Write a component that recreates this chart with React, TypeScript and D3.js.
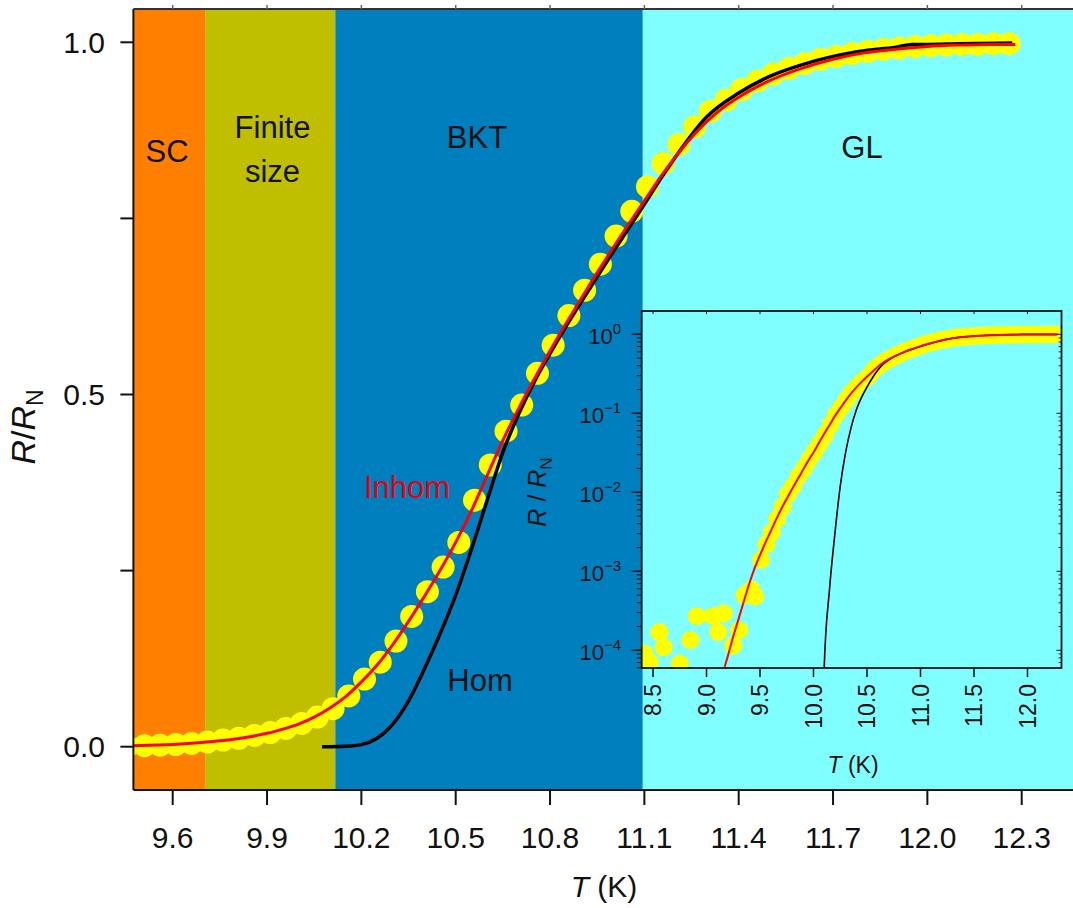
import React from 'react';
import * as d3 from 'd3';

const W = 1073;
const H = 908;
const FONT = "'Liberation Sans', Arial, Helvetica, sans-serif";

// Regions (temperature boundaries in K)
const regionNames = ['SC', 'Finite', 'BKT', 'GL'];
const regionStart = [9.3, 9.705, 10.117, 11.095];
const regionEnd = [9.705, 10.117, 11.095, 12.7];
const regionColors = ['#FF7F00', '#BFBF00', '#007FBF', '#7FFFFF'];

// Main axes ticks
const xTicks = [9.6, 9.9, 10.2, 10.5, 10.8, 11.1, 11.4, 11.7, 12.0, 12.3];
const xTickLabels = ['9.6', '9.9', '10.2', '10.5', '10.8', '11.1', '11.4', '11.7', '12.0', '12.3'];
const yTicks = [0, 0.25, 0.5, 0.75, 1.0];
const yTickLabels = ['0.0', '', '0.5', '', '1.0'];

// Inset axes ticks
const insetXTicks = [8.5, 9.0, 9.5, 10.0, 10.5, 11.0, 11.5, 12.0];
const insetXTickLabels = ['8.5', '9.0', '9.5', '10.0', '10.5', '11.0', '11.5', '12.0'];
const insetYDecades = [0, -1, -2, -3, -4];
const insetYSup = ['0', '\u22121', '\u22122', '\u22123', '\u22124'];

// Measured R/RN data (yellow circles)
const dataT = [8.42, 8.47, 8.56, 8.6, 8.75, 8.85, 8.91, 9.06, 9.11, 9.16,
  9.25, 9.305, 9.355, 9.42, 9.455,
  9.51, 9.56, 9.61, 9.66, 9.71, 9.76,
  9.81, 9.86, 9.91, 9.96, 10.01, 10.06, 10.11, 10.16, 10.21, 10.26,
  10.31, 10.36, 10.41, 10.46, 10.51, 10.56, 10.61, 10.66, 10.71, 10.76,
  10.81, 10.86, 10.91, 10.96, 11.01, 11.06, 11.11, 11.16, 11.21, 11.26,
  11.31, 11.36, 11.41, 11.46, 11.51, 11.56, 11.61, 11.66, 11.71, 11.76,
  11.81, 11.86, 11.91, 11.96, 12.01, 12.06, 12.11, 12.16, 12.21, 12.26];
const dataR = [9.1e-5, 7.1e-5, 1.7e-4, 1.1e-4, 6.8e-5, 1.35e-4, 2.7e-4, 2.7e-4, 1.7e-4, 2.95e-4,
  1.15e-4, 1.8e-4, 5.0e-4, 5.9e-4, 4.8e-4,
  1.4e-3, 2.2e-3, 3.1e-3, 4.6e-3, 6.5e-3, 0.0095,
  0.012, 0.016, 0.02, 0.026, 0.033, 0.042, 0.054, 0.072, 0.096, 0.12,
  0.15, 0.185, 0.22, 0.255, 0.29, 0.35, 0.4, 0.448, 0.485, 0.53,
  0.57, 0.612, 0.648, 0.685, 0.725, 0.76, 0.795, 0.828, 0.855, 0.88,
  0.902, 0.918, 0.933, 0.945, 0.955, 0.963, 0.97, 0.976, 0.98, 0.984,
  0.987, 0.99, 0.992, 0.994, 0.995, 0.996, 0.997, 0.997, 0.998, 0.998];

// Inhomogeneous fit (red)
const inhomT = [9.17, 9.2, 9.25, 9.3, 9.35, 9.4, 9.45, 9.5, 9.55, 9.6, 9.65, 9.7, 9.75,
  9.8, 9.85, 9.9, 9.95, 10.0, 10.05, 10.1, 10.15, 10.2, 10.25, 10.3, 10.35, 10.4, 10.45,
  10.5, 10.55, 10.6, 10.65, 10.7, 10.75, 10.8, 10.85, 10.9, 10.95, 11.0, 11.05, 11.1,
  11.15, 11.2, 11.25, 11.3, 11.35, 11.4, 11.45, 11.5, 11.6, 11.7, 11.8, 11.9, 12.0,
  12.1, 12.2, 12.28];
const inhomR = [6.2e-5, 8.5e-5, 1.5e-4, 2.5e-4, 4.2e-4, 7e-4, 1.1e-3, 1.6e-3, 2.3e-3, 3.2e-3, 4.5e-3, 6.2e-3, 8.3e-3,
  0.011, 0.0145, 0.019, 0.025, 0.032, 0.042, 0.055, 0.071, 0.092, 0.116, 0.145, 0.178, 0.213, 0.25,
  0.29, 0.335, 0.385, 0.435, 0.48, 0.522, 0.562, 0.6, 0.637, 0.673, 0.708, 0.742, 0.775,
  0.808, 0.838, 0.865, 0.888, 0.907, 0.922, 0.935, 0.946, 0.963, 0.976, 0.985, 0.99, 0.994,
  0.996, 0.997, 0.997];

// Homogeneous fit (black)
const homT = [10.075, 10.1, 10.15, 10.2, 10.25, 10.3, 10.35, 10.4, 10.45, 10.5, 10.55, 10.6,
  10.65, 10.7, 10.75, 10.8, 10.85, 10.9, 10.95, 11.0, 11.05, 11.1, 11.15, 11.2, 11.3, 11.4,
  11.5, 11.6, 11.7, 11.8, 11.9, 11.95, 12.0, 12.1, 12.27];
const homR = [1e-6, 6e-5, 6e-4, 3e-3, 0.012, 0.032, 0.065, 0.11, 0.16, 0.215, 0.28, 0.35,
  0.418, 0.472, 0.518, 0.558, 0.596, 0.632, 0.667, 0.702, 0.736, 0.77, 0.805, 0.838, 0.895, 0.928,
  0.952, 0.968, 0.98, 0.988, 0.993, 0.997, 0.997, 0.998, 0.999];

const points = dataT.map((t, i) => ({ t, r: dataR[i] }));
const inhom = inhomT.map((t, i) => ({ t, r: inhomR[i] }));
const hom = homT.map((t, i) => ({ t, r: homR[i] }));

export default function App() {
  // main scales
  const x = d3.scaleLinear().domain([9.6, 12.3]).range([172.7, 1021.7]);
  const y = d3.scaleLinear().domain([0, 1]).range([746.7, 42.3]);
  const left = x(9.475);
  const right = 1090;
  const top = 9;
  const bottom = 790;

  // inset scales
  const xi = d3.scaleLinear().domain([8.5, 12.0]).range([653, 1027.5]);
  const yi = d3.scaleLog().domain([1e-4, 1]).range([650.3, 334.3]);
  const iL = 641.7, iR = 1061.5, iT = 311, iB = 668;

  const lineMain = d3.line<{ t: number; r: number }>()
    .x(d => x(d.t)).y(d => y(d.r)).curve(d3.curveMonotoneX);
  const lineInset = d3.line<{ t: number; r: number }>()
    .x(d => xi(d.t)).y(d => yi(d.r)).curve(d3.curveMonotoneX);

  const minorTicks: number[] = [];
  for (let e = -5; e <= 0; e++) {
    for (let m = 2; m <= 9; m++) {
      const v = m * Math.pow(10, e);
      const py = yi(v);
      if (py <= iB && py >= iT) minorTicks.push(v);
    }
  }

  const regionLabelPos = [
    { x: 167, y: 162, lines: ['SC'] },
    { x: 272.5, y: 138, lines: ['Finite', 'size'] },
    { x: 477, y: 148, lines: ['BKT'] },
    { x: 862, y: 158, lines: ['GL'] },
  ];

  return (
    <svg width={W} height={H} style={{ position: 'absolute', left: 0, top: 0, background: '#fff' }}
      fontFamily={FONT}>
      <defs>
        <clipPath id="mainClip">
          <rect x={left} y={top} width={right - left} height={bottom - top} />
        </clipPath>
        <clipPath id="insetClip">
          <rect x={iL} y={iT} width={iR - iL} height={iB - iT} />
        </clipPath>
      </defs>

      {/* Regions */}
      <g clipPath="url(#mainClip)">
        {regionNames.map((n, i) => (
          <rect key={n} x={x(regionStart[i])} y={top}
            width={x(regionEnd[i]) - x(regionStart[i])} height={bottom - top}
            fill={regionColors[i]} />
        ))}
      </g>

      {/* Region labels */}
      {regionLabelPos.map((p, i) => (
        <text key={i} x={p.x} y={p.y} textAnchor="middle" fontSize={31} fill="#111">
          {p.lines.map((l, j) => (
            <tspan key={j} x={p.x} dy={j === 0 ? 0 : 44}>{l}</tspan>
          ))}
        </text>
      ))}

      {/* Main data */}
      <g clipPath="url(#mainClip)">
        {points.map((d, i) => (
          <circle key={i} cx={x(d.t)} cy={y(d.r)} r={11.5} fill="#FFFF00" />
        ))}
        <path d={lineMain(hom) || ''} fill="none" stroke="#000" strokeWidth={3.5} strokeLinejoin="round" />
        <path d={lineMain(inhom) || ''} fill="none" stroke="#FF0000" strokeWidth={3} strokeLinejoin="round" />
      </g>

      {/* Curve labels */}
      <text x={407} y={498} textAnchor="middle" fontSize={31} fill="#E8000B">Inhom</text>
      <text x={480} y={691} textAnchor="middle" fontSize={31} fill="#111">Hom</text>

      {/* Main frame */}
      <line x1={left} x2={left} y1={top} y2={bottom} stroke="#111" strokeWidth={2} />
      <line x1={left} x2={W} y1={bottom} y2={bottom} stroke="#111" strokeWidth={2} />
      <line x1={left} x2={W} y1={top} y2={top} stroke="#333" strokeWidth={2} />

      {/* Bottom axis */}
      {xTicks.map((t, i) => (
        <g key={t}>
          <line x1={x(t)} x2={x(t)} y1={bottom} y2={bottom + 15} stroke="#111" strokeWidth={2} />
          <line x1={x(t)} x2={x(t)} y1={top} y2={top - 4} stroke="#666" strokeWidth={1.5} />
          <text x={x(t)} y={848} textAnchor="middle" fontSize={30} fill="#111">{xTickLabels[i]}</text>
        </g>
      ))}
      <text x={604} y={897} textAnchor="middle" fontSize={30} fill="#111">
        <tspan fontStyle="italic">T</tspan> (K)
      </text>

      {/* Left axis */}
      {yTicks.map((v, i) => (
        <g key={v}>
          <line x1={left - 13} x2={left} y1={y(v)} y2={y(v)} stroke="#111" strokeWidth={2} />
          {yTickLabels[i] && (
            <text x={105} y={y(v) + 10.7} textAnchor="end" fontSize={30} fill="#111">{yTickLabels[i]}</text>
          )}
        </g>
      ))}
      <text transform="translate(35,427) rotate(-90)" textAnchor="middle" fontSize={34} fill="#111">
        <tspan fontStyle="italic">R</tspan>/<tspan fontStyle="italic">R</tspan>
        <tspan fontSize={23} dy={8}>N</tspan>
      </text>

      {/* Inset */}
      <rect x={iL} y={iT} width={iR - iL} height={iB - iT} fill="#7FFFFF" />
      <g clipPath="url(#insetClip)">
        {points.map((d, i) => (
          <circle key={i} cx={xi(d.t)} cy={yi(d.r)} r={9} fill="#FFFF00" />
        ))}
        <path d={lineInset(hom) || ''} fill="none" stroke="#000" strokeWidth={1.6} />
        <path d={lineInset(inhom) || ''} fill="none" stroke="#FF0000" strokeWidth={2} />
      </g>
      <rect x={iL} y={iT} width={iR - iL} height={iB - iT} fill="none" stroke="#111" strokeWidth={1.8} />

      {/* Inset x axis */}
      {insetXTicks.map((t, i) => (
        <g key={t}>
          <line x1={xi(t)} x2={xi(t)} y1={iB} y2={iB + 9} stroke="#111" strokeWidth={1.5} />
          <line x1={xi(t)} x2={xi(t)} y1={iT} y2={iT + 3} stroke="#111" strokeWidth={1} />
          <text transform={`translate(${xi(t) + 8},684) rotate(-90)`} textAnchor="end" fontSize={23} fill="#111">
            {insetXTickLabels[i]}
          </text>
        </g>
      ))}
      <text x={853} y={773} textAnchor="middle" fontSize={23} fill="#111">
        <tspan fontStyle="italic">T</tspan> (K)
      </text>

      {/* Inset y axis */}
      {insetYDecades.map((e, i) => {
        const v = Math.pow(10, e);
        return (
          <g key={e}>
            <line x1={iL - 10} x2={iL} y1={yi(v)} y2={yi(v)} stroke="#111" strokeWidth={1.5} />
            <line x1={iR} x2={iR - 5} y1={yi(v)} y2={yi(v)} stroke="#111" strokeWidth={1} />
            <text x={621} y={yi(v) + 10} textAnchor="end" fontSize={22} fill="#111">
              10<tspan fontSize={15} dy={-10}>{insetYSup[i]}</tspan>
            </text>
          </g>
        );
      })}
      {minorTicks.map((v, i) => (
        <g key={i}>
          <line x1={iL - 5} x2={iL} y1={yi(v)} y2={yi(v)} stroke="#111" strokeWidth={1} />
          <line x1={iR} x2={iR - 3} y1={yi(v)} y2={yi(v)} stroke="#111" strokeWidth={0.8} />
        </g>
      ))}
      <text transform="translate(546,492) rotate(-90)" textAnchor="middle" fontSize={25} fill="#111">
        <tspan fontStyle="italic">R</tspan> / <tspan fontStyle="italic">R</tspan>
        <tspan fontSize={17} dy={6}>N</tspan>
      </text>
    </svg>
  );
}
